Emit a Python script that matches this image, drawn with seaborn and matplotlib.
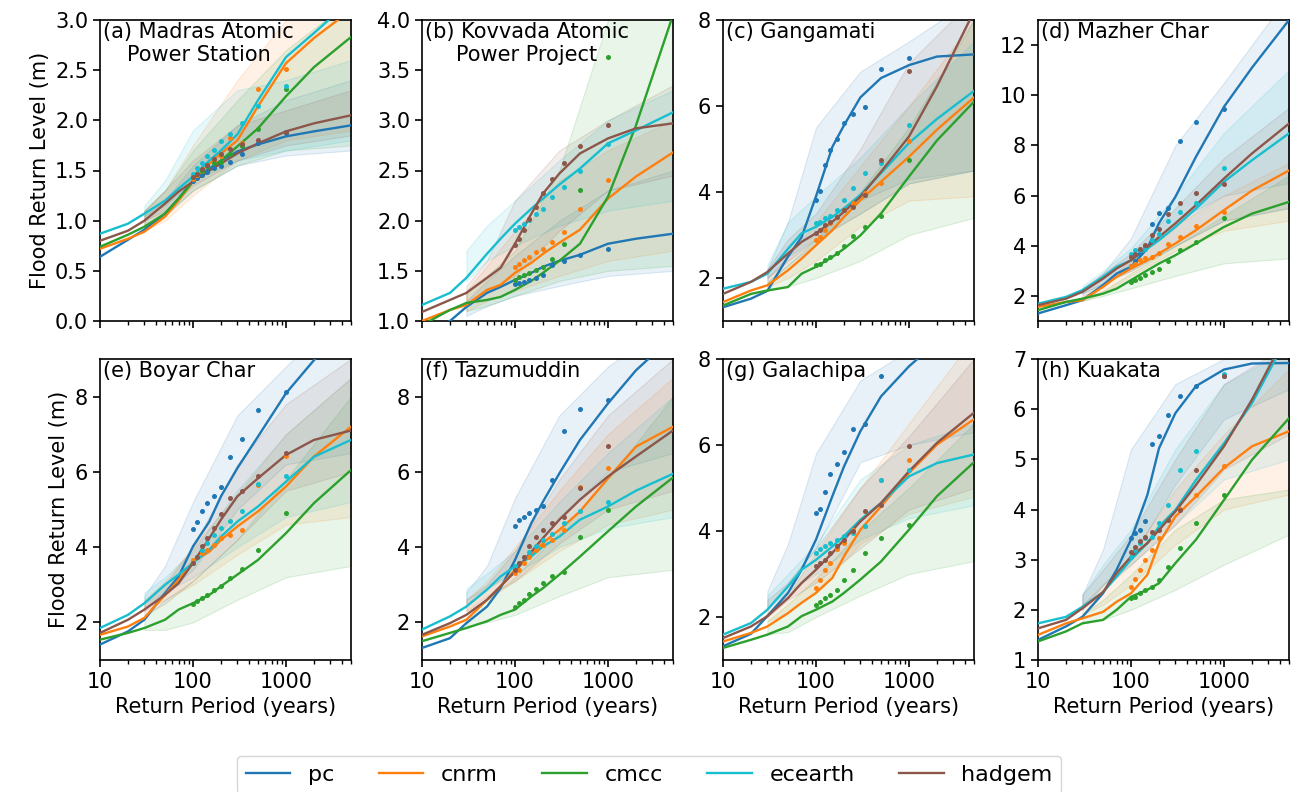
import matplotlib
matplotlib.use("Agg")
import matplotlib.pyplot as plt
from matplotlib.colors import to_rgba
from matplotlib.lines import Line2D
from matplotlib.ticker import NullFormatter
import seaborn as sns

MODELS = ["pc", "cnrm", "cmcc", "ecearth", "hadgem"]
COLORS = ["#1f77b4", "#ff7f0e", "#2ca02c", "#17becf", "#8c564b"]

# return periods (years)
LINE_X = [10, 20, 30, 50, 70, 100, 150, 200, 300, 500, 1000, 2000, 5000]
DOT_X = [1000, 500, 333, 250, 200, 167, 143, 125, 111, 100]
BAND_X = [30, 50, 100, 300, 1000, 5000]

TITLES = ["(a) Madras Atomic\nPower Station", "(b) Kovvada Atomic\nPower Project",
          "(c) Gangamati", "(d) Mazher Char", "(e) Boyar Char", "(f) Tazumuddin",
          "(g) Galachipa", "(h) Kuakata"]
YLIMS = [(0, 3), (1, 4), (1, 8), (1, 13), (1, 9), (1, 9), (1, 8), (1, 7)]
YTICKS = [[0.0, 0.5, 1.0, 1.5, 2.0, 2.5, 3.0], [1.0, 1.5, 2.0, 2.5, 3.0, 3.5, 4.0],
          [2, 4, 6, 8], [2, 4, 6, 8, 10, 12], [2, 4, 6, 8], [2, 4, 6, 8],
          [2, 4, 6, 8], [1, 2, 3, 4, 5, 6, 7]]

# ---- fitted return level curves (rows: pc, cnrm, cmcc, ecearth, hadgem) ----
LINES_A = [[0.64, 0.81, 0.91, 1.07, 1.22, 1.40, 1.52, 1.60, 1.69, 1.76, 1.84, 1.89, 1.95],
           [0.72, 0.82, 0.89, 1.04, 1.20, 1.39, 1.57, 1.67, 1.80, 2.14, 2.57, 2.82, 3.10],
           [0.74, 0.86, 0.94, 1.07, 1.22, 1.39, 1.50, 1.60, 1.74, 1.92, 2.24, 2.53, 2.83],
           [0.87, 0.97, 1.07, 1.20, 1.32, 1.44, 1.60, 1.70, 1.86, 2.20, 2.63, 2.87, 3.20],
           [0.80, 0.90, 1.00, 1.17, 1.29, 1.39, 1.50, 1.57, 1.67, 1.77, 1.89, 1.97, 2.05]]
LINES_B = [[0.88, 1.00, 1.14, 1.28, 1.34, 1.41, 1.48, 1.54, 1.60, 1.66, 1.77, 1.82, 1.87],
           [1.00, 1.11, 1.16, 1.31, 1.36, 1.48, 1.58, 1.67, 1.78, 1.91, 2.22, 2.44, 2.68],
           [0.96, 1.11, 1.18, 1.21, 1.24, 1.31, 1.40, 1.48, 1.60, 1.77, 2.24, 2.95, 4.05],
           [1.16, 1.28, 1.43, 1.67, 1.82, 1.97, 2.12, 2.22, 2.36, 2.52, 2.77, 2.90, 3.08],
           [1.09, 1.21, 1.28, 1.43, 1.53, 1.77, 2.07, 2.27, 2.47, 2.67, 2.82, 2.92, 2.97]]
LINES_C = [[1.32, 1.52, 1.70, 2.50, 2.95, 3.90, 5.05, 5.55, 6.20, 6.65, 6.95, 7.15, 7.20],
           [1.44, 1.71, 1.83, 2.18, 2.45, 2.76, 3.11, 3.42, 3.81, 4.24, 4.82, 5.45, 6.20],
           [1.36, 1.63, 1.71, 1.79, 2.10, 2.26, 2.49, 2.68, 2.99, 3.50, 4.36, 5.20, 6.10],
           [1.75, 1.91, 2.10, 2.68, 3.04, 3.19, 3.42, 3.62, 3.93, 4.44, 5.14, 5.70, 6.35],
           [1.63, 1.91, 2.14, 2.57, 2.84, 3.04, 3.31, 3.54, 3.89, 4.47, 5.29, 6.46, 8.20]]
LINES_D = [[1.30, 1.63, 1.83, 2.43, 2.89, 3.16, 3.90, 4.90, 5.95, 7.55, 9.54, 11.1, 13.0],
           [1.56, 1.76, 1.83, 2.36, 2.76, 3.09, 3.42, 3.69, 4.09, 4.62, 5.42, 6.20, 7.00],
           [1.43, 1.76, 1.89, 2.09, 2.29, 2.63, 3.02, 3.29, 3.62, 4.09, 4.75, 5.28, 5.75],
           [1.69, 1.96, 2.23, 2.76, 3.16, 3.42, 3.89, 4.22, 4.75, 5.48, 6.55, 7.41, 8.48],
           [1.63, 1.89, 2.16, 2.69, 3.09, 3.42, 3.95, 4.35, 4.89, 5.62, 6.68, 7.68, 8.87]]
LINES_E = [[1.41, 1.76, 2.07, 2.78, 3.22, 4.02, 4.68, 5.35, 6.10, 6.94, 8.09, 8.97, 10.0],
           [1.67, 1.89, 2.12, 2.73, 3.13, 3.62, 3.88, 4.19, 4.55, 4.95, 5.61, 6.41, 7.20],
           [1.54, 1.72, 1.85, 2.07, 2.34, 2.51, 2.73, 2.96, 3.27, 3.66, 4.37, 5.17, 6.05],
           [1.85, 2.20, 2.51, 3.00, 3.27, 3.58, 3.93, 4.28, 4.68, 5.08, 5.74, 6.40, 6.85],
           [1.72, 2.07, 2.34, 2.73, 3.04, 3.58, 4.24, 4.73, 5.35, 5.83, 6.45, 6.85, 7.10]]
LINES_F = [[1.32, 1.58, 1.98, 2.42, 2.91, 3.66, 4.64, 5.21, 5.96, 6.85, 7.82, 8.70, 9.60],
           [1.63, 1.89, 2.07, 2.60, 2.96, 3.40, 3.80, 4.11, 4.46, 4.95, 5.83, 6.67, 7.20],
           [1.50, 1.72, 1.85, 2.03, 2.20, 2.34, 2.69, 2.91, 3.27, 3.75, 4.42, 5.08, 5.85],
           [1.81, 2.16, 2.42, 2.87, 3.22, 3.49, 3.75, 4.02, 4.28, 4.73, 5.08, 5.50, 5.95],
           [1.67, 1.98, 2.20, 2.60, 2.96, 3.35, 3.88, 4.24, 4.73, 5.26, 5.88, 6.41, 7.10]]
LINES_G = [[1.32, 1.61, 2.02, 2.56, 3.10, 3.80, 4.81, 5.50, 6.32, 7.13, 7.83, 8.40, 8.90],
           [1.43, 1.63, 1.78, 2.09, 2.33, 2.56, 2.91, 3.41, 4.03, 4.57, 5.35, 6.01, 6.60],
           [1.28, 1.47, 1.59, 1.78, 2.02, 2.17, 2.36, 2.56, 2.87, 3.29, 4.03, 4.81, 5.60],
           [1.59, 1.86, 2.17, 2.71, 3.10, 3.33, 3.64, 3.88, 4.26, 4.65, 5.27, 5.58, 5.78],
           [1.51, 1.78, 2.02, 2.44, 2.79, 3.10, 3.49, 3.80, 4.22, 4.65, 5.39, 6.05, 6.75]]
LINES_H = [[1.40, 1.67, 1.86, 2.33, 2.80, 3.40, 4.29, 5.22, 5.92, 6.46, 6.79, 6.91, 6.92],
           [1.50, 1.73, 1.83, 1.96, 2.16, 2.33, 2.70, 3.33, 3.86, 4.26, 4.83, 5.26, 5.56],
           [1.37, 1.57, 1.73, 1.80, 2.00, 2.26, 2.40, 2.53, 2.93, 3.40, 4.19, 4.99, 5.82],
           [1.73, 1.86, 2.06, 2.35, 2.66, 3.00, 3.33, 3.66, 3.99, 4.59, 5.32, 6.12, 7.50],
           [1.63, 1.80, 2.03, 2.35, 2.73, 3.06, 3.33, 3.59, 3.96, 4.49, 5.26, 6.19, 7.60]]

# ---- empirical points at DOT_X ----
DOTS_A = [[1.87, 1.77, 1.66, 1.58, 1.54, 1.52, 1.49, 1.46, 1.43, 1.40],
          [2.51, 2.31, 1.77, 1.82, 1.64, 1.59, 1.55, 1.50, 1.46, 1.42],
          [2.31, 1.91, 1.74, 1.66, 1.58, 1.57, 1.54, 1.50, 1.47, 1.44],
          [2.34, 2.14, 1.97, 1.86, 1.79, 1.70, 1.64, 1.57, 1.52, 1.47],
          [1.88, 1.80, 1.76, 1.71, 1.66, 1.61, 1.55, 1.51, 1.47, 1.44]]
DOTS_B = [[1.72, 1.66, 1.60, 1.56, 1.46, 1.43, 1.41, 1.39, 1.38, 1.37],
          [2.41, 2.12, 1.89, 1.79, 1.72, 1.69, 1.64, 1.61, 1.57, 1.54],
          [3.63, 2.31, 1.77, 1.62, 1.54, 1.51, 1.48, 1.46, 1.44, 1.41],
          [2.76, 2.50, 2.34, 2.24, 2.12, 2.07, 2.01, 1.97, 1.94, 1.91],
          [2.95, 2.74, 2.57, 2.42, 2.28, 2.14, 2.02, 1.91, 1.82, 1.76]]
DOTS_C = [[7.12, 6.85, 5.98, 5.82, 5.60, 5.23, 4.98, 4.63, 4.03, 3.81],
          [5.18, 4.20, 3.97, 3.74, 3.58, 3.42, 3.27, 3.11, 2.96, 2.88],
          [4.75, 3.44, 3.19, 2.97, 2.74, 2.58, 2.49, 2.41, 2.33, 2.30],
          [5.56, 4.68, 4.44, 4.09, 3.81, 3.58, 3.44, 3.39, 3.31, 3.27],
          [6.81, 4.75, 3.93, 3.66, 3.58, 3.42, 3.31, 3.23, 3.11, 3.04]]
DOTS_D = [[9.47, 8.94, 8.17, 5.52, 5.32, 4.86, 4.00, 3.70, 3.40, 3.20],
          [5.35, 4.79, 4.35, 4.05, 3.73, 3.56, 3.53, 3.42, 3.29, 3.20],
          [5.12, 4.15, 3.82, 3.38, 3.09, 2.96, 2.85, 2.73, 2.65, 2.56],
          [7.10, 5.71, 5.35, 4.98, 4.45, 4.22, 3.89, 3.85, 3.82, 3.69],
          [6.48, 6.12, 5.71, 5.28, 4.67, 4.42, 4.02, 3.89, 3.69, 3.56]]
DOTS_E = [[8.11, 7.65, 6.88, 6.39, 5.61, 5.35, 5.17, 4.95, 4.68, 4.48],
          [6.41, 5.64, 4.46, 4.33, 4.24, 4.06, 3.93, 3.84, 3.75, 3.66],
          [4.92, 3.93, 3.42, 3.19, 2.96, 2.87, 2.72, 2.65, 2.56, 2.50],
          [5.90, 5.68, 4.95, 4.70, 4.50, 4.31, 4.10, 3.93, 3.75, 3.58],
          [6.50, 5.88, 5.50, 5.30, 4.88, 4.50, 4.24, 4.02, 3.75, 3.58]]
DOTS_F = [[7.91, 7.67, 7.09, 5.79, 5.08, 5.00, 4.90, 4.81, 4.73, 4.55],
          [6.10, 5.61, 4.46, 4.19, 4.06, 3.93, 3.75, 3.58, 3.40, 3.31],
          [4.99, 4.28, 3.34, 3.22, 3.04, 2.88, 2.76, 2.60, 2.51, 2.41],
          [5.21, 4.95, 4.64, 4.35, 4.19, 4.02, 3.86, 3.75, 3.58, 3.49],
          [6.70, 5.57, 4.81, 4.64, 4.46, 4.27, 4.02, 3.75, 3.58, 3.40]]
DOTS_G = [[8.30, 7.61, 6.49, 6.37, 5.84, 5.56, 5.33, 4.91, 4.51, 4.41],
          [5.66, 5.18, 4.11, 4.03, 3.72, 3.58, 3.26, 3.09, 2.87, 2.67],
          [4.15, 3.84, 3.49, 3.10, 2.85, 2.62, 2.52, 2.44, 2.34, 2.29],
          [5.43, 5.18, 4.11, 3.95, 3.88, 3.80, 3.72, 3.64, 3.57, 3.49],
          [5.97, 4.61, 4.46, 3.99, 3.78, 3.64, 3.49, 3.33, 3.26, 3.18]]
DOTS_H = [[6.66, 6.46, 6.26, 5.89, 5.47, 5.30, 3.77, 3.60, 3.53, 3.43],
          [4.87, 4.29, 4.01, 3.79, 3.43, 3.20, 3.00, 2.80, 2.61, 2.46],
          [4.29, 3.74, 3.23, 2.85, 2.60, 2.46, 2.40, 2.33, 2.26, 2.23],
          [6.70, 5.16, 4.79, 4.09, 3.73, 3.46, 3.43, 3.33, 3.20, 3.06],
          [6.66, 4.79, 3.99, 3.79, 3.59, 3.56, 3.46, 3.38, 3.26, 3.16]]

# ---- confidence bands at BAND_X ----
LOW_A = [[0.95, 1.05, 1.30, 1.55, 1.65, 1.70], [0.90, 1.00, 1.25, 1.60, 1.80, 1.90],
         [0.95, 1.05, 1.30, 1.55, 1.70, 1.75], [1.05, 1.15, 1.40, 1.60, 1.70, 1.80],
         [1.00, 1.10, 1.35, 1.60, 1.75, 1.85]]
HIGH_A = [[1.05, 1.20, 1.55, 1.95, 2.20, 2.40], [1.10, 1.30, 1.75, 2.40, 3.00, 3.30],
          [1.10, 1.30, 1.70, 2.20, 2.70, 3.20], [1.15, 1.40, 1.90, 2.30, 2.40, 2.60],
          [1.10, 1.30, 1.60, 1.95, 2.10, 2.30]]
LOW_B = [[1.05, 1.15, 1.25, 1.35, 1.45, 1.50], [1.10, 1.20, 1.30, 1.45, 1.60, 1.70],
         [1.10, 1.15, 1.25, 1.40, 1.50, 1.55], [1.40, 1.60, 1.75, 1.95, 2.10, 2.20],
         [1.20, 1.30, 1.45, 1.90, 2.30, 2.45]]
HIGH_B = [[1.20, 1.40, 1.65, 2.00, 2.30, 2.50], [1.30, 1.55, 1.90, 2.40, 2.70, 3.00],
          [1.30, 1.45, 1.70, 2.50, 4.00, 4.50], [1.70, 1.95, 2.20, 2.60, 3.00, 3.30],
          [1.35, 1.60, 2.20, 2.70, 3.00, 3.35]]
LOW_C = [[1.9, 2.3, 2.8, 3.8, 4.3, 4.5], [1.8, 2.0, 2.4, 3.2, 3.8, 3.9],
         [1.7, 1.8, 2.0, 2.4, 3.0, 3.4], [2.0, 2.5, 2.9, 3.5, 4.2, 4.5],
         [2.0, 2.4, 2.9, 3.5, 4.2, 4.5]]
HIGH_C = [[2.2, 3.3, 5.5, 6.8, 7.5, 8.5], [2.0, 2.5, 3.3, 4.6, 6.0, 8.0],
          [1.9, 2.3, 2.9, 4.0, 5.5, 8.0], [2.3, 3.3, 3.9, 4.8, 6.0, 7.5],
          [2.2, 2.9, 3.5, 5.0, 7.0, 8.5]]
LOW_D = [[1.9, 2.4, 3.2, 5.0, 6.0, 6.5], [1.8, 2.1, 2.8, 3.8, 4.6, 5.0],
         [1.8, 2.0, 2.3, 2.8, 3.3, 3.5], [2.1, 2.5, 3.0, 4.0, 5.0, 5.5],
         [2.1, 2.5, 3.0, 4.0, 5.0, 5.5]]
HIGH_D = [[2.2, 2.9, 4.3, 8.0, 10.5, 14.0], [2.0, 2.5, 3.4, 4.8, 6.0, 7.3],
          [1.9, 2.2, 2.9, 4.0, 5.2, 6.8], [2.4, 3.0, 3.9, 6.0, 8.5, 11.0],
          [2.3, 2.9, 3.7, 5.5, 7.5, 9.5]]
LOW_E = [[2.4, 2.8, 3.4, 5.0, 6.2, 6.5], [2.3, 2.6, 3.0, 3.8, 4.6, 4.8],
         [1.8, 1.8, 2.0, 2.6, 3.2, 3.5], [2.5, 2.8, 3.2, 4.0, 4.8, 5.2],
         [2.2, 2.5, 3.1, 4.2, 5.5, 6.0]]
HIGH_E = [[2.7, 3.5, 5.2, 7.5, 8.8, 10.5], [2.6, 3.1, 4.0, 5.4, 7.0, 8.5],
          [2.1, 2.6, 3.1, 4.2, 5.8, 8.0], [2.8, 3.2, 3.9, 5.5, 7.0, 8.5],
          [2.5, 3.0, 4.0, 6.2, 7.8, 9.0]]
LOW_F = [[2.5, 2.9, 3.4, 4.8, 6.0, 6.5], [2.3, 2.6, 3.1, 3.9, 4.6, 5.0],
         [1.9, 2.0, 2.2, 2.7, 3.2, 3.4], [2.6, 2.9, 3.3, 4.0, 4.5, 4.8],
         [2.3, 2.7, 3.1, 4.1, 5.0, 5.5]]
HIGH_F = [[2.8, 3.5, 5.3, 7.5, 8.8, 10.0], [2.6, 3.1, 4.0, 5.5, 7.0, 8.5],
          [2.1, 2.6, 3.2, 4.4, 5.8, 8.0], [2.9, 3.3, 3.9, 5.2, 6.5, 8.0],
          [2.6, 3.0, 3.9, 5.8, 7.5, 9.0]]
LOW_G = [[2.2, 2.8, 3.6, 5.6, 6.0, 6.3], [1.9, 2.1, 2.6, 3.7, 4.4, 4.8],
         [1.6, 1.65, 2.0, 2.5, 3.0, 3.3], [2.2, 2.6, 3.0, 3.8, 4.3, 4.6],
         [2.0, 2.4, 2.8, 3.6, 4.5, 5.0]]
HIGH_G = [[2.6, 3.7, 5.8, 7.5, 8.2, 9.0], [2.1, 2.5, 3.5, 5.0, 6.5, 8.5],
          [1.9, 2.3, 2.9, 4.0, 5.0, 6.5], [2.5, 3.0, 3.7, 5.2, 6.0, 6.5],
          [2.4, 2.8, 3.6, 5.0, 6.2, 8.0]]
LOW_H = [[2.0, 2.5, 3.0, 4.5, 5.8, 6.4], [1.9, 2.1, 2.5, 3.3, 4.0, 4.3],
         [1.75, 1.8, 2.0, 2.4, 2.9, 3.5], [2.1, 2.5, 2.9, 3.7, 4.6, 5.0],
         [2.1, 2.4, 2.9, 3.7, 4.8, 5.5]]
HIGH_H = [[2.3, 3.2, 5.2, 6.5, 7.0, 7.2], [2.1, 2.5, 3.1, 4.4, 5.5, 6.8],
          [1.9, 2.2, 2.7, 3.6, 4.2, 4.4], [2.3, 2.9, 3.6, 5.2, 6.5, 7.2],
          [2.3, 2.8, 3.5, 5.0, 6.5, 7.3]]

LINES = [LINES_A, LINES_B, LINES_C, LINES_D, LINES_E, LINES_F, LINES_G, LINES_H]
DOTS = [DOTS_A, DOTS_B, DOTS_C, DOTS_D, DOTS_E, DOTS_F, DOTS_G, DOTS_H]
LOWS = [LOW_A, LOW_B, LOW_C, LOW_D, LOW_E, LOW_F, LOW_G, LOW_H]
HIGHS = [HIGH_A, HIGH_B, HIGH_C, HIGH_D, HIGH_E, HIGH_F, HIGH_G, HIGH_H]

plt.rcParams.update({
    "font.family": ["DejaVu Sans"],
    "axes.linewidth": 1.2,
    "xtick.major.size": 5, "xtick.major.width": 1.2,
    "ytick.major.size": 5, "ytick.major.width": 1.2,
    "xtick.minor.size": 3, "xtick.minor.width": 1.0,
})

W, H = 1293, 792
fig = plt.figure(figsize=(W / 100, H / 100), dpi=100)
LEFTS = [100, 422, 723, 1038]
TOPS = [20, 359]
AW, AH = 251, 301
FS = 15

for p in range(8):
    r, c = divmod(p, 4)
    ax = fig.add_axes([LEFTS[c] / W, 1 - (TOPS[r] + AH) / H, AW / W, AH / H])
    for i, m in enumerate(MODELS):
        col = COLORS[i]
        ax.fill_between(BAND_X, LOWS[p][i], HIGHS[p][i],
                        facecolor=to_rgba(col, 0.1), edgecolor=to_rgba(col, 0.15),
                        linewidth=0.8, zorder=1)
    for i, m in enumerate(MODELS):
        sns.lineplot(x=LINE_X, y=LINES[p][i], ax=ax, color=COLORS[i],
                     linewidth=1.7, legend=False, zorder=3)
    for i, m in enumerate(MODELS):
        sns.scatterplot(x=DOT_X, y=DOTS[p][i], ax=ax, color=COLORS[i],
                        s=13, linewidth=0, legend=False, zorder=4)
    ax.set_xscale("log")
    ax.set_xlim(10, 5000)
    ax.set_ylim(*YLIMS[p])
    ax.set_xticks([10, 100, 1000])
    ax.xaxis.set_minor_formatter(NullFormatter())
    if r == 1:
        ax.set_xticklabels(["10", "100", "1000"], fontsize=FS)
        ax.set_xlabel("Return Period (years)", fontsize=FS)
    else:
        ax.set_xticklabels([])
        ax.set_xlabel("")
    yt = YTICKS[p]
    ax.set_yticks(yt)
    if p in (0, 1):
        ax.set_yticklabels([f"{v:.1f}" for v in yt], fontsize=FS)
    else:
        ax.set_yticklabels([f"{v:d}" for v in yt], fontsize=FS)
    if c == 0:
        ax.set_ylabel("Flood Return Level (m)", fontsize=FS)
    else:
        ax.set_ylabel("")
    ax.text(0.012, 0.995, TITLES[p], transform=ax.transAxes, ha="left", va="top",
            multialignment="center", fontsize=FS, zorder=6)

handles = [Line2D([0], [0], color=COLORS[i], lw=1.7) for i in range(5)]
fig.legend(handles, MODELS, loc="upper center", bbox_to_anchor=(0.502, 0.0455),
           borderaxespad=0.0, ncol=5, fontsize=16, frameon=True)

fig.savefig("out.png", dpi=100)
